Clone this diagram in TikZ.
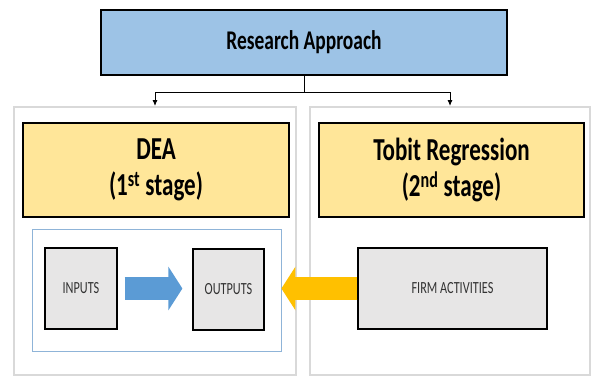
\documentclass[tikz,border=0pt]{standalone}
\usepackage{fontspec}
\setmainfont[FakeStretch=0.72]{Carlito}
\usepackage{xcolor}
\usepackage{tikz}
\usetikzlibrary{arrows.meta, positioning, calc}
\definecolor{rablue}{HTML}{9DC3E6}
\definecolor{rasand}{HTML}{FFE699}
\definecolor{ragray}{HTML}{E7E6E6}
\definecolor{rapanel}{HTML}{D9D9D9}
\definecolor{raarrow}{HTML}{5B9BD5}
\definecolor{ragold}{HTML}{FFC000}
\definecolor{raframe}{HTML}{8FB4D8}

\begin{document}
\begin{tikzpicture}[
  x=1pt, y=-1pt,
  box/.style={draw=black, line width=1.2pt, align=center, inner sep=0pt},
  head/.style={box, fill=rablue, line width=1.6pt, font=\fontsize{27}{30}\selectfont\bfseries},
  stage/.style={box, fill=rasand, font=\fontsize{32}{36}\selectfont\bfseries},
  panel/.style={draw=rapanel, line width=2pt, inner sep=0pt},
  item/.style={box, fill=ragray, text=black!80, font=\fontsize{17}{20}\selectfont},
  arr/.style={-{Latex[length=6pt,width=5pt]}, line width=0.9pt},
  fat/.style={line width=23pt, -{Triangle[length=14pt,width=43pt]}}
]
\useasboundingbox (0,0) rectangle (591,376);
\node[head, minimum width=406pt, minimum height=65pt] (top) at (304,42.5) {Research Approach};
\node[panel, minimum width=282pt, minimum height=268pt] (leftpanel) at (155,241) {};
\node[panel, minimum width=280pt, minimum height=268pt] (rightpanel) at (450,241) {};
\node[stage, minimum width=266pt, minimum height=94pt] (dea) at (156,170) {DEA\\(1\textsuperscript{st} stage)};
\node[stage, minimum width=265pt, minimum height=94pt] (tobit) at (451.5,170) {Tobit Regression\\(2\textsuperscript{nd} stage)};
\node[draw=raframe, line width=0.8pt, minimum width=249pt, minimum height=122pt] (frame) at (156.5,290) {};
\node[item, minimum width=72pt, minimum height=81pt] (inputs) at (81,288.5) {INPUTS};
\node[item, minimum width=71pt, minimum height=81pt] (outputs) at (228.5,289.5) {OUTPUTS};
\node[item, minimum width=189pt, minimum height=81pt] (firm) at (452.5,288.5) {FIRM ACTIVITIES};

\coordinate (split) at ($(top.south)+(0,17)$);
\draw[line width=0.9pt] (top.south) -- (split);
\draw[arr] (split) -| (leftpanel.north);
\draw[arr] (split) -| (rightpanel.north);
\draw[fat, draw=raarrow, shorten <=7pt, shorten >=10pt] (inputs.east) -- (inputs.east -| outputs.west);
\draw[fat, draw=ragold] (firm.west) -- (firm.west -| frame.east);
\end{tikzpicture}
\end{document}
